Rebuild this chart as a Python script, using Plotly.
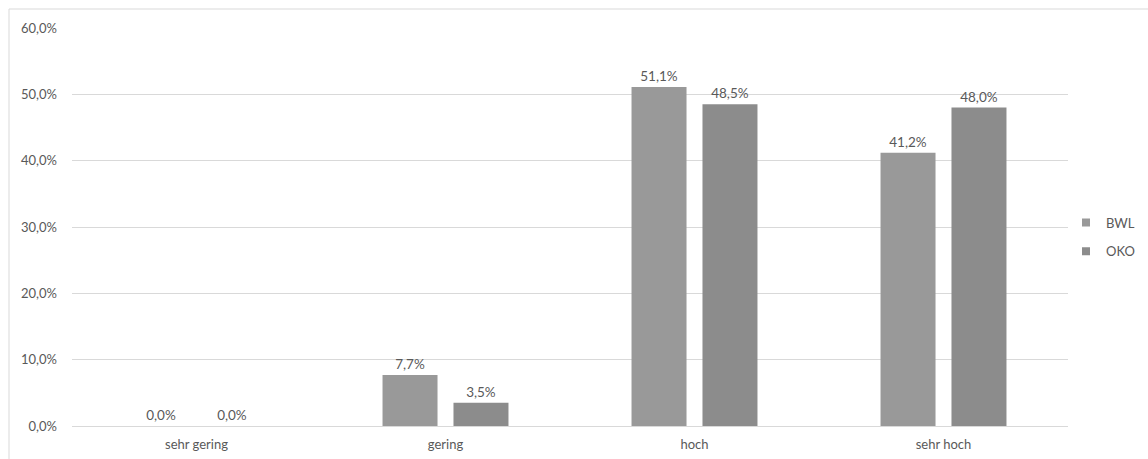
import plotly.graph_objects as go

categories = ["sehr gering", "gering", "hoch", "sehr hoch"]
bwl = [0.0, 0.077, 0.511, 0.412]
oko = [0.0, 0.035, 0.485, 0.480]
y_ticks = [0, 0.1, 0.2, 0.3, 0.4, 0.5, 0.6]

W, H = 1148, 459
ML, MR, MT, MB = 72, 80, 28, 33
pw = W - ML - MR
ph = H - MT - MB

FAMILY = "Lato, Open Sans, sans-serif"
GREY_TXT = "#595959"
tick_font = dict(family=FAMILY, size=13, color=GREY_TXT)
label_font = dict(family=FAMILY, size=13.5, color=GREY_TXT)

series = [("BWL", bwl, "#999999"), ("OKO", oko, "#8c8c8c")]

fig = go.Figure()
for name, vals, color in series:
    fig.add_trace(go.Bar(
        name=name, x=categories, y=vals, showlegend=False, legendgroup=name,
        marker=dict(color=color, line=dict(width=0)),
        texttemplate="%{y:.1%}", textposition="outside",
        textfont=label_font, cliponaxis=False,
    ))
# small square legend keys
for name, vals, color in series:
    fig.add_trace(go.Scatter(
        name=name, x=[None], y=[None], mode="markers", legendgroup=name,
        marker=dict(symbol="square", size=8, color=color),
        showlegend=True, hoverinfo="skip",
    ))

# outer chart frame (right and bottom edges fall outside the page)
fig.add_shape(
    type="rect", xref="paper", yref="paper",
    x0=(9 - ML) / pw, x1=(W + 20 - ML) / pw,
    y0=-(20 + MB) / ph, y1=(H - MB - 9) / ph,
    line=dict(color="#d9d9d9", width=1), fillcolor="rgba(0,0,0,0)", layer="below",
)

fig.update_layout(
    width=W, height=H,
    margin=dict(l=ML, r=MR, t=MT, b=MB, autoexpand=False),
    paper_bgcolor="white", plot_bgcolor="white",
    separators=",.",
    barmode="group", bargap=0.43, bargroupgap=0.225,
    font=tick_font,
    showlegend=True,
    legend=dict(
        xref="container", yref="container",
        x=1066 / W, y=1 - 237 / H, xanchor="left", yanchor="middle",
        font=tick_font, itemwidth=30, tracegroupgap=9,
        bgcolor="rgba(0,0,0,0)",
    ),
    xaxis=dict(
        showgrid=False, showline=True, linecolor="#d9d9d9", linewidth=1,
        ticks="", tickfont=tick_font, ticklabelstandoff=6,
    ),
    yaxis=dict(
        range=[0, 0.6], tickvals=y_ticks, tickformat=".1%",
        showgrid=True, gridcolor="#d9d9d9", gridwidth=1,
        zeroline=False, showline=False, ticks="",
        tickfont=tick_font, ticklabelstandoff=14,
    ),
)

fig.write_html("out.html")
